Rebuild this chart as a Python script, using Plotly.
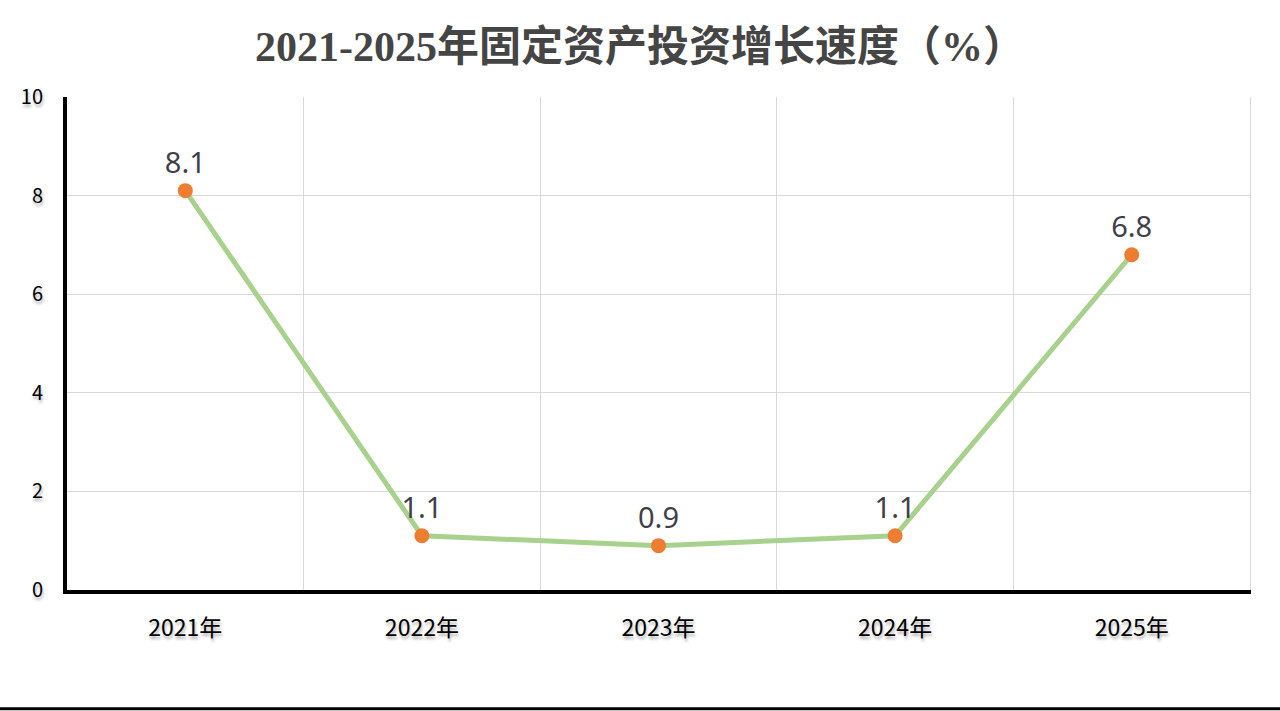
import plotly.graph_objects as go

years = ["2021年", "2022年", "2023年", "2024年", "2025年"]
growth = [8.1, 1.1, 0.9, 1.1, 6.8]
y_ticks = [0, 2, 4, 6, 8, 10]
title_text = "2021-2025年固定资产投资增长速度（%）"

shadow = "1px 3px 3px rgba(0,0,0,0.30)"

fig = go.Figure()
fig.add_trace(go.Scatter(
    x=years, y=growth,
    mode="lines+markers+text",
    line=dict(color="#A9D18E", width=5),
    marker=dict(color="#ED7D31", size=15),
    text=[f"{v:.1f}" for v in growth],
    textposition="top center",
    textfont=dict(family="Noto Sans, Open Sans, sans-serif", size=29, color="#3f3f4a"),
    cliponaxis=False,
    showlegend=False,
))
# empty helper trace so the right-hand frame axis is drawn
fig.add_trace(go.Scatter(x=[], y=[], yaxis="y2", mode="lines", showlegend=False, hoverinfo="skip"))

fig.update_layout(
    width=1280, height=711,
    paper_bgcolor="white", plot_bgcolor="white",
    margin=dict(l=67, r=30, t=97, b=121),
    title=dict(
        text="<b>" + title_text + "</b>",
        x=0.5, xanchor="center", y=0.935, yanchor="middle",
        font=dict(family="Liberation Serif, DejaVu Serif, Noto Sans CJK SC, serif", size=42, color="#454545"),
    ),
    xaxis=dict(
        type="category",
        range=[-0.5, 4.5],
        tickson="boundaries",
        showgrid=True, gridcolor="#d9d9d9", gridwidth=1,
        showline=True, linecolor="black", linewidth=4,
        ticks="", ticklabelstandoff=14,
        tickfont=dict(family="Noto Sans CJK SC, sans-serif", size=23, color="black", shadow=shadow),
        zeroline=False,
    ),
    yaxis=dict(
        range=[0, 10],
        tickvals=y_ticks,
        showgrid=True, gridcolor="#d9d9d9", gridwidth=1,
        showline=True, linecolor="black", linewidth=4,
        ticks="", ticklabelstandoff=16,
        tickfont=dict(family="Noto Sans CJK SC, sans-serif", size=20, color="black", shadow=shadow),
        zeroline=False,
    ),
    yaxis2=dict(
        overlaying="y", side="right", range=[0, 10],
        showline=True, linecolor="#d9d9d9", linewidth=1,
        showgrid=False, showticklabels=False, ticks="", zeroline=False,
    ),
    shapes=[dict(type="line", xref="paper", yref="paper", x0=-0.06, x1=1.03, y0=-0.241, y1=-0.241,
                 line=dict(color="black", width=3))],
)

fig.write_html(
    "out.html",
    config={"displayModeBar": False},
    post_script="document.body.style.margin='0';document.body.style.overflow='hidden';",
)
